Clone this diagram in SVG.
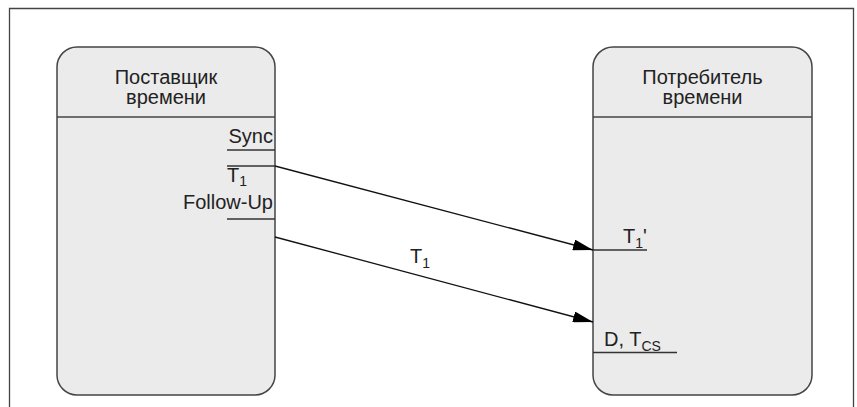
<svg xmlns="http://www.w3.org/2000/svg" width="857" height="407" viewBox="0 0 857 407">
<style>
.box{fill:#ebebeb;stroke:#444;stroke-width:1.5}
.div{stroke:#444;stroke-width:1.5}
.tick{stroke:#333;stroke-width:1.3}
.t{font-family:"Liberation Sans",Arial,sans-serif;font-size:20px;fill:#222}
.s{font-size:14px}
.c{stroke:#111;stroke-width:1.3;fill:none;marker-end:url(#ah)}
</style>
<defs>
<marker id="ah" markerUnits="userSpaceOnUse" markerWidth="20" markerHeight="11" refX="20" refY="5.5" orient="auto">
<path d="M0,0 L20,5.5 L0,11 z" fill="#000"/>
</marker>
</defs>
<rect x="0" y="0" width="857" height="407" fill="#fff"/>
<path d="M9.5,420 V8.5 H853.5 V420" fill="none" stroke="#444" stroke-width="1.3"/>
<g id="provider">
<rect class="box" x="57" y="47" width="218" height="348" rx="20"/>
<line class="div" x1="57" y1="117" x2="275" y2="117"/>
<text class="t" x="166" y="84" text-anchor="middle">Поставщик</text>
<text class="t" x="166" y="104" text-anchor="middle">времени</text>
<text class="t" x="273" y="143" text-anchor="end">Sync</text>
<line class="tick" x1="227" y1="150" x2="275" y2="150"/>
<line class="tick" x1="227" y1="166" x2="275" y2="166"/>
<text class="t" x="227" y="182">T<tspan class="s" dy="4">1</tspan></text>
<text class="t" x="273" y="209" text-anchor="end">Follow-Up</text>
<line class="tick" x1="227" y1="219" x2="275" y2="219"/>
</g>
<g id="consumer">
<rect class="box" x="593" y="47" width="219" height="348" rx="20"/>
<line class="div" x1="593" y1="117" x2="812" y2="117"/>
<text class="t" x="702.5" y="84" text-anchor="middle">Потребитель</text>
<text class="t" x="702.5" y="104" text-anchor="middle">времени</text>
<text class="t" x="623" y="243">T<tspan class="s" dy="5">1</tspan><tspan dy="-5">'</tspan></text>
<line class="tick" x1="593" y1="250" x2="647" y2="250"/>
<text class="t" x="604" y="346">D, T<tspan class="s" dy="5">CS</tspan></text>
<line class="tick" x1="593" y1="352.5" x2="677" y2="352.5"/>
</g>
<g id="connectors">
<line class="c" x1="275" y1="166" x2="593" y2="250"/>
<line class="c" x1="275" y1="237" x2="593" y2="322"/>
<text class="t" x="410" y="263">T<tspan class="s" dy="5">1</tspan></text>
</g>
</svg>
